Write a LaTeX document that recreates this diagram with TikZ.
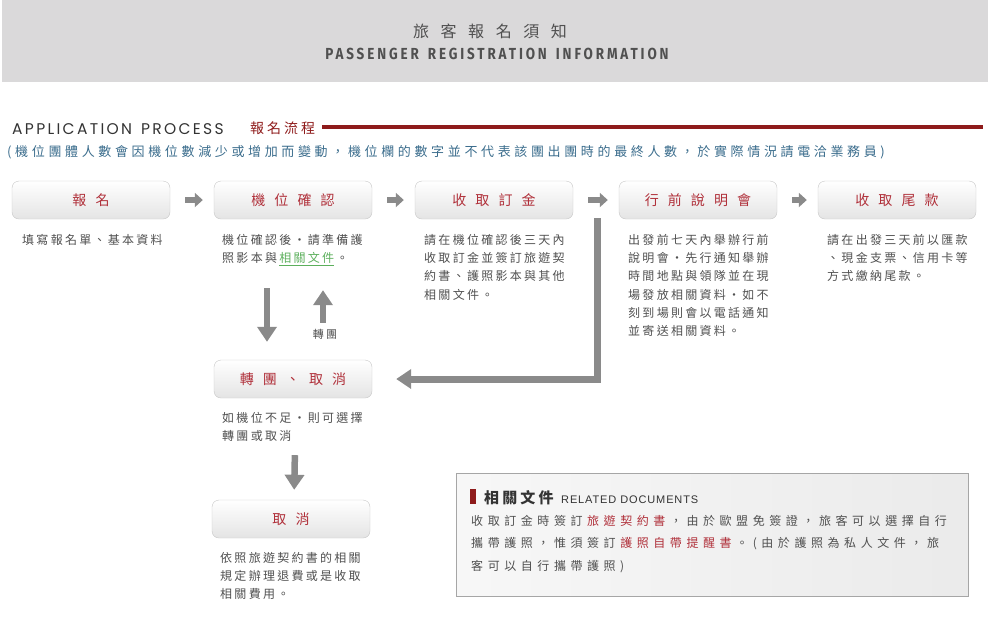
\documentclass[tikz,border=0pt]{standalone}
\usepackage{fontspec}
\setmainfont{Liberation Sans}
\newfontfamily\cjknote[LetterSpace=19]{Noto Sans CJK TC}
\newfontfamily\cjklabel[LetterSpace=65]{Noto Sans CJK TC}
\newfontfamily\cjkline[LetterSpace=28]{Noto Sans CJK TC}
\newfontfamily\cjkdoc[LetterSpace=38]{Noto Sans CJK TC}
\newfontfamily\cjktitle[LetterSpace=72]{Noto Sans CJK TC}
\newfontfamily\cjkhead[LetterSpace=21]{Noto Sans CJK TC}
\newfontfamily\headfont[FakeStretch=0.84,LetterSpace=18]{Fira Sans}
\newfontfamily\procfont[LetterSpace=15]{Poppins}
\newfontfamily\relfont[LetterSpace=8]{Liberation Sans}
\usetikzlibrary{arrows.meta,positioning}

\definecolor{bandgray}{HTML}{DAD9DA}
\definecolor{headtext}{HTML}{505050}
\definecolor{deepred}{HTML}{8E1B1B}
\definecolor{labelred}{HTML}{B0303A}
\definecolor{noteblue}{HTML}{3A6C8C}
\definecolor{notegray}{HTML}{505050}
\definecolor{arrowgray}{HTML}{8A8A8A}
\definecolor{linkgreen}{HTML}{5CAF5C}
\definecolor{boxline}{HTML}{C6C6C6}
\definecolor{boxbottom}{HTML}{E4E4E4}

\newcommand\notegap{\kern2.3pt}
\newcommand\docgap{\kern4.6pt}
\newcommand\wordgap{\hspace{9pt}}

\begin{document}
\begin{tikzpicture}[x=1pt, y=-1pt,
  stage/.style={rectangle, draw=boxline, rounded corners=7pt, top color=white, bottom color=boxbottom,
    minimum width=158pt, minimum height=38pt, inner sep=0pt, text=labelred,
    font=\cjklabel\fontsize{14}{16}\selectfont},
  note/.style={anchor=north west, align=left, inner sep=0pt, text=notegray,
    font=\cjknote\fontsize{12}{18.3}\selectfont},
  flow/.style={-{Triangle[width=14pt,length=8pt]}, line width=6.5pt, draw=arrowgray},
  bigflow/.style={-{Triangle[width=19pt,length=15pt]}, line width=7pt, draw=arrowgray},
  turnflow/.style={-{Triangle[width=19pt,length=15pt]}, line width=6.5pt, draw=arrowgray},
]
\useasboundingbox (0,0) rectangle (990,633);

% === header band ===
\fill[bandgray] (2,0) rectangle (988,82);
\node[text=headtext, font=\cjktitle\fontsize{16}{18}\selectfont, anchor=base] (title) at (490,37) {旅客報名須知};
\node[text=headtext, font=\headfont\bfseries\fontsize{16}{18}\selectfont, anchor=base] (subtitle) at (497,59)
  {PASSENGER\wordgap REGISTRATION\wordgap INFORMATION};

% === section heading ===
\node[text=black!80, font=\procfont\fontsize{15.5}{18}\selectfont, anchor=base west, inner sep=0pt] (proc) at (12,134)
  {APPLICATION\wordgap PROCESS};
\node[text=deepred, font=\cjkhead\fontsize{14}{18}\selectfont, anchor=base west, inner sep=0pt] (proczh) at (250,133) {報名流程};
\coordinate (rule end) at (983,127);
\draw[deepred, line width=4pt] (322,127) -- (rule end);
\node[text=noteblue, font=\cjkline\fontsize{13}{16}\selectfont, anchor=north west, inner sep=0pt] (remark) at (7,145)
  {(機位團體人數會因機位數減少或增加而變動，機位欄的數字並不代表該團出團時的最終人數，於實際情況請電洽業務員)};

% === process row ===
\node[stage] (b1) at (91,200) {報名};
\node[stage] (b2) at (293,200) {機位確認};
\node[stage] (b3) at (494,200) {收取訂金};
\node[stage] (b4) at (698,200) {行前說明會};
\node[stage] (b5) at (897,200) {收取尾款};
\foreach \a/\b in {b1/b2, b2/b3, b3/b4, b4/b5}
  \draw[flow, shorten <=15pt, shorten >=11pt] (\a) -- (\b);

\node[note] (n1) at (22,234) {填寫報名單、基本資料};
\node[note] (n2) at (222,234) {機位確認後・請準備護\\照影本與\notegap\textcolor{linkgreen}{\underline{相關文件}}\notegap。};
\node[note] (n3) at (424,234) {請在機位確認後三天內\\收取訂金並簽訂旅遊契\\約書、護照影本與其他\\相關文件。};
\node[note] (n4) at (628,234) {出發前七天內舉辦行前\\說明會・先行通知舉辦\\時間地點與領隊並在現\\場發放相關資料・如不\\刻到場則會以電話通知\\並寄送相關資料。};
\node[note] (n5) at (827,234) {請在出發三天前以匯款\\、現金支票、信用卡等\\方式繳納尾款。};

% === transfer / cancel ===
\node[stage] (tc) at (293,379) {轉團、取消};
\node[stage] (cx) at (291,519) {取消};
\node[note] (n6) at (222,412) {如機位不足・則可選擇\\轉團或取消};
\node[note] (n7) at (220,552) {依照旅遊契約書的相關\\規定辦理退費或是收取\\相關費用。};

\draw[turnflow, shorten <=69pt, shorten >=18pt] ([xshift=-26pt]b2.south) -- ([xshift=-26pt]tc.north);
\draw[turnflow, shorten <=37pt, shorten >=71pt] ([xshift=30pt]tc.north) -- ([xshift=30pt]b2.south);
\node[text=notegray, font=\cjknote\fontsize{11}{13}\selectfont] (turnlbl) at (325,334) {轉團};
\coordinate (back) at (597,218);
\draw[bigflow, shorten >=24pt] (back) |- (tc.east);
\draw[turnflow, shorten <=57pt, shorten >=10pt] ([xshift=3pt]tc.south) -- ([xshift=3pt]cx.north);

% === related documents ===
\node[draw=black!35, left color=gray!6, right color=gray!16, minimum width=512pt, minimum height=123pt, inner sep=0pt] (docs) at (712,534.5) {};
\fill[deepred] (470,489) rectangle (476,504);
\node[text=black!80, font=\cjkhead\bfseries\fontsize{15}{18}\selectfont, anchor=base west, inner sep=0pt] (docszh) at (484,503) {相關文件};
\node[text=black!80, font=\relfont\fontsize{11}{13}\selectfont, anchor=base west, inner sep=0pt] (docsen) at (561,503) {RELATED DOCUMENTS};
\node[note, text=notegray, font=\cjkdoc\fontsize{12}{22.5}\selectfont] (docbody) at (471,515)
  {收取訂金時簽訂\docgap\textcolor{labelred}{旅遊契約書}\docgap，由於歐盟免簽證，旅客可以選擇自行\\攜帶護照，惟須簽訂\docgap\textcolor{labelred}{護照自帶提醒書}\docgap。(由於護照為私人文件，旅\\客可以自行攜帶護照)};

\end{tikzpicture}
\end{document}
